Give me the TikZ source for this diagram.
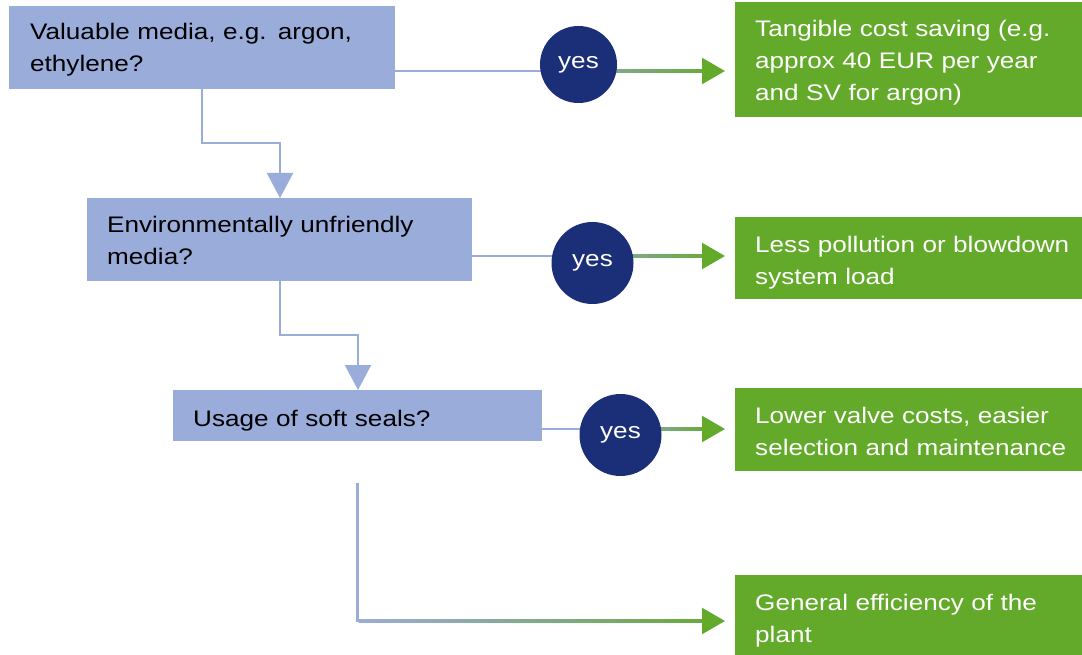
\documentclass[tikz,border=0pt]{standalone}
\usepackage{fontspec}
\setmainfont{Liberation Sans}[FakeStretch=1.16]
\usetikzlibrary{arrows.meta,backgrounds,calc}
\definecolor{boxblue}{RGB}{154,172,218}
\definecolor{navy}{RGB}{27,46,120}
\definecolor{leaf}{RGB}{99,170,42}
\definecolor{mixline}{RGB}{128,170,145}
\definecolor{mixend}{RGB}{104,170,62}
\tikzset{
 qbox/.style={fill=boxblue, draw=none, inner sep=0pt, anchor=north west},
 gbox/.style={fill=leaf, draw=none, inner sep=0pt, anchor=north west},
 qtext/.style={anchor=base west, inner sep=0pt, text width=340pt, align=left, text=black, font=\fontsize{22.5}{32}\selectfont},
 gtext/.style={qtext, text=white},
 yesnode/.style={circle, fill=navy, text=white, inner sep=0pt, minimum size=#1, font=\fontsize{22.5}{27}\selectfont},
 bline/.style={draw=boxblue, line width=2.3pt},
 gline/.style={draw=mixline, line width=2.3pt, -{Triangle[length=23pt,width=26pt,color=leaf]}, shorten >=10pt},
 fadeline/.style={left color=mixline, right color=mixend},
 downarrow/.style={bline, -{Triangle[length=25pt,width=26pt]}},
}
\begin{document}
\begin{tikzpicture}[x=1pt,y=-1pt]
\useasboundingbox (0,0) rectangle (1082,655);
% question boxes
\node[qbox, minimum width=386pt, minimum height=83pt] (b1) at (9,6) {};
\node[qbox, minimum width=385pt, minimum height=83pt] (b2) at (87,198) {};
\node[qbox, minimum width=369pt, minimum height=51pt] (b3) at (173,390) {};
\node[qtext] (b1t) at (30,39.3) {Valuable media, e.g. argon,\\ethylene?};
\node[qtext] (b2t) at (107,233) {Environmentally unfriendly\\media?};
\node[qtext] (b3t) at (193,426) {Usage of soft seals?};
% result boxes
\node[gbox, minimum width=370pt, minimum height=115pt] (g1) at (735,2) {};
\node[gbox, minimum width=370pt, minimum height=82pt] (g2) at (735,217) {};
\node[gbox, minimum width=370pt, minimum height=83pt] (g3) at (735,388) {};
\node[gbox, minimum width=370pt, minimum height=90pt] (g4) at (735,575) {};
\node[gtext] (g1t) at (755,36.7) {Tangible cost saving (e.g.\\approx 40 EUR per year\\and SV for argon)};
\node[gtext] (g2t) at (755,252.3) {Less pollution or blowdown\\system load};
\node[gtext] (g3t) at (755,423) {Lower valve costs, easier\\selection and maintenance};
\node[gtext] (g4t) at (755,610) {General efficiency of the\\plant};
% yes circles
\node[yesnode=77pt] (c1) at (578.5,64.5) {yes};
\node[yesnode=82pt] (c2) at (592.5,263) {yes};
\node[yesnode=82pt] (c3) at (620.5,435) {yes};
% helper coordinates
\coordinate (h1) at (0,71);
\coordinate (h2) at (0,256);
\coordinate (h3) at (0,429);
\coordinate (v1) at (202,143);
\coordinate (k1) at (280,0);
\coordinate (v2) at (280,335);
\coordinate (k2) at (358,0);
\coordinate (s) at (357.5,483);
\coordinate (v3) at (357.5,621);
\begin{pgfonlayer}{background}
\draw[bline] (b1.east |- h1) -- (c1.center |- h1);
\draw[gline] (c1.center |- h1) -- (g1.west |- h1);
\shade[fadeline] ($(c1.center |- h1)+(30,-1.15)$) rectangle ($(g1.west |- h1)+(-32,1.15)$);
\draw[bline] (b2.east |- h2) -- (c2.center |- h2);
\draw[gline] (c2.center |- h2) -- (g2.west |- h2);
\shade[fadeline] ($(c2.center |- h2)+(30,-1.15)$) rectangle ($(g2.west |- h2)+(-32,1.15)$);
\draw[bline] (b3.east |- h3) -- (c3.center |- h3);
\draw[gline] (c3.center |- h3) -- (g3.west |- h3);
\shade[fadeline] ($(c3.center |- h3)+(30,-1.15)$) rectangle ($(g3.west |- h3)+(-32,1.15)$);
\draw[downarrow] (b1.south -| v1) -- (v1) -| (b2.north -| k1);
\draw[downarrow] (b2.south -| v2) -- (v2) -| (b3.north -| k2);
\draw[bline, -{Triangle[length=23pt,width=26pt,color=leaf]}, shorten >=10pt] (s) -- (v3) -- (v3 -| g4.west);
\shade[left color=boxblue, middle color=boxblue!50!mixline, right color=mixend] ($(v3)+(1.15,-1.15)$) rectangle ($(v3 -| g4.west)+(-32,1.15)$);
\end{pgfonlayer}
\end{tikzpicture}
\end{document}
